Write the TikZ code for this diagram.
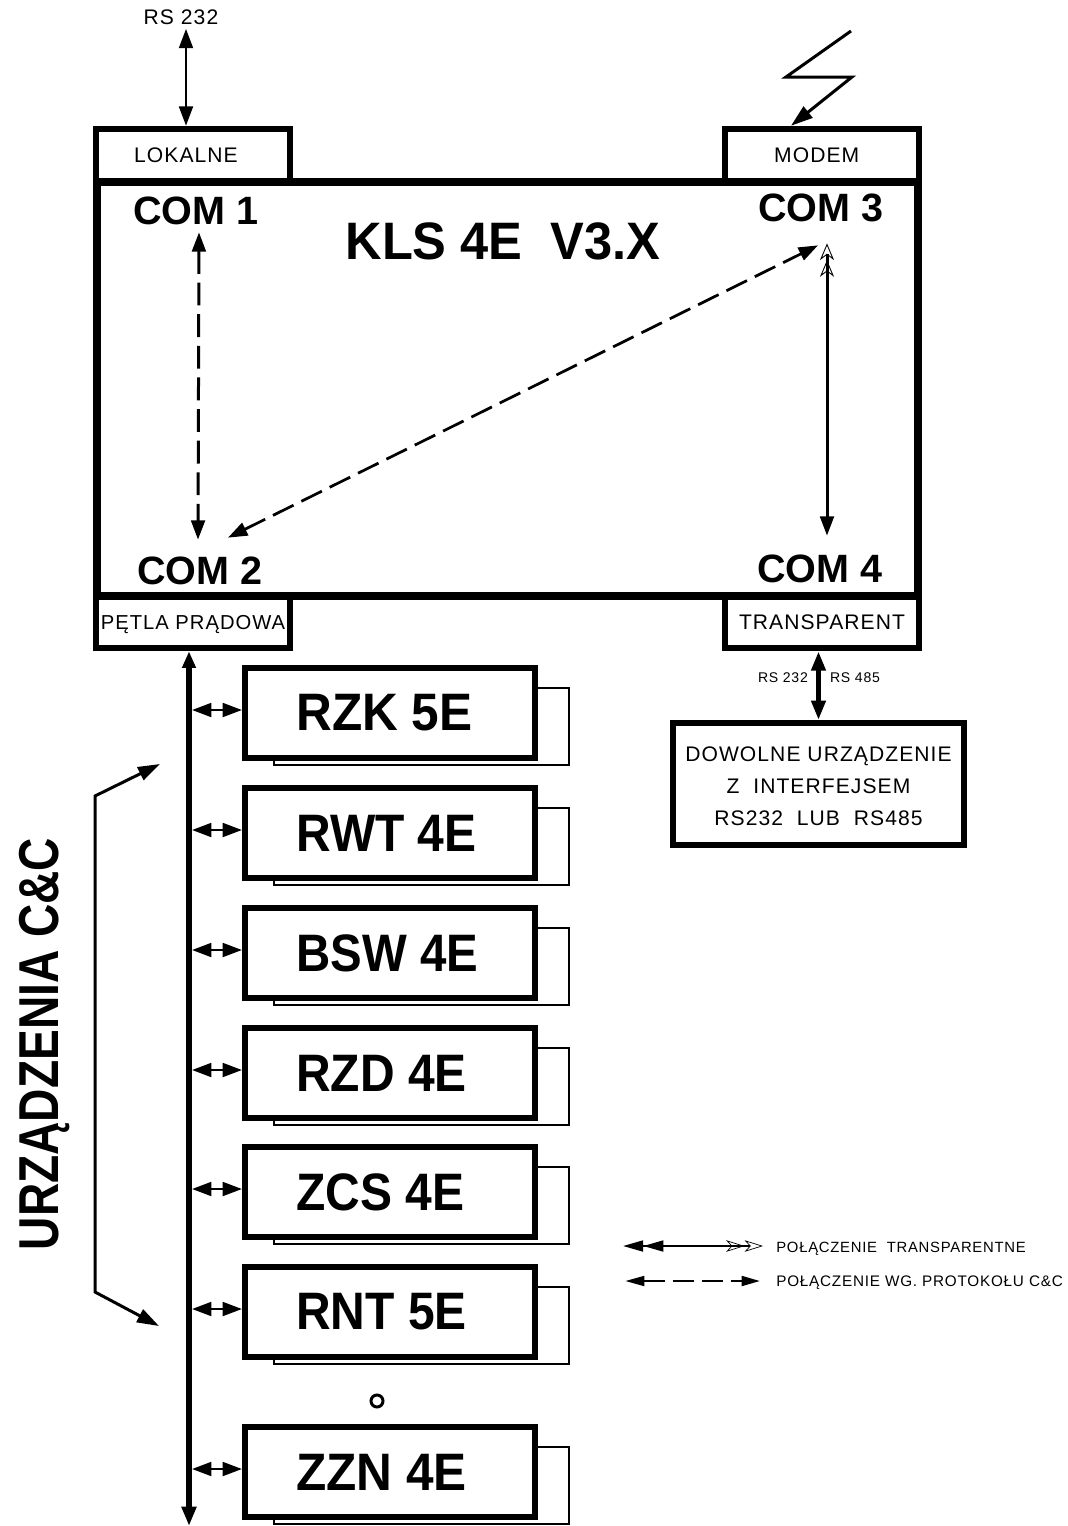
\documentclass[tikz,border=0pt]{standalone}
\usepackage{fontspec}
\usepackage{tikz}
\usetikzlibrary{calc, arrows.meta}
\setmainfont{Liberation Sans}
\newfontfamily\spacedfont[LetterSpace=5]{Liberation Sans}
\tikzset{
  thickbox/.style={draw, inner sep=0pt, line width=.12cm, minimum width=3.89cm, minimum height=1.05cm, text depth=0pt, font=\fontsize{12}{12}\spacedfont},
  frontbox/.style={draw, fill=white, inner sep=0pt, line width=.12cm, minimum width=5.8cm, minimum height=1.8cm},
  backbox/.style={draw, inner sep=0pt, line width=.04cm, minimum width=5.9cm, minimum height=1.54cm},
  comlabel/.style={inner sep=0pt, font=\fontsize{22.5}{22.5}\selectfont\bfseries},
  devlabel/.style={inner sep=0pt, anchor=west, font=\fontsize{30}{30}\selectfont\bfseries},
  smalllabel/.style={inner sep=0pt, font=\fontsize{8}{8}\spacedfont},
  solidtip/.tip={Triangle[length=11pt, width=7.8pt]},
  longtip/.tip={Triangle[length=12.5pt, width=8pt]},
  hollowdbl/.tip={Stealth[open, length=9.5pt, width=8pt, inset=3pt, line width=.5pt] Stealth[open, length=9.5pt, width=8pt, inset=3pt, line width=.5pt]},
  devlink/.style={solidtip-solidtip, line width=.055cm},
  dashedlink/.style={solidtip-solidtip, line width=.06cm, dash pattern=on 13pt off 5pt}
}

\begin{document}
\begin{tikzpicture}[x=0.02cm, y=-0.02cm]
  \useasboundingbox (0,0) rectangle (1068,1526);

  % controller with its four ports
  \node[draw, inner sep=0pt, line width=.16cm, minimum width=16.44cm, minimum height=8.28cm] (main) at (507.5,389) {};
  \node[thickbox] (lokalne) at (193,155) {LOKALNE\rule{8pt}{0pt}};
  \node[thickbox] (modem) at (822,155) {MODEM\rule{6pt}{0pt}};
  \node[thickbox, font=\fontsize{11.5}{11.5}\spacedfont] (petla) at (193,622) {PĘTLA PRĄDOWA};
  \node[thickbox] (transparent) at (822,622) {TRANSPARENT};

  \node[inner sep=0pt, font=\fontsize{30}{30}\selectfont\bfseries] (kls) at (503,241) {\scalebox{.96}[1]{KLS 4E\ \ V3.X}};
  \node[comlabel] (com1) at (196,211) {COM 1};
  \node[comlabel] (com3) at (821,208) {COM 3};
  \node[comlabel] (com2) at (200,571) {COM 2};
  \node[comlabel] (com4) at (820,569) {COM 4};

  % links inside
  \draw[dashedlink] ($(com1.south)+(3,7)$) -- ($(com2.north)+(-2,-17)$);
  \draw[dashedlink, line width=.055cm] ($(com2.north)+(28,-19)$) -- ($(com3.south)+(-3,23)$);
  \draw[hollowdbl-solidtip, line width=.06cm] ($(com3.south)+(6,21)$) -- ($(com4.north)+(7,-19)$);

  % RS 232 on top
  \node[inner sep=0pt, font=\fontsize{12}{12}\spacedfont] (rstop) at (181,17) {RS 232};
  \coordinate (rsin) at ($(rstop.south)+(5,4)$);
  \draw[devlink] (rsin) -- (lokalne.north -| rsin);

  % radio link
  \coordinate (radio) at (851,31);
  \draw[-longtip, line width=.06cm] (radio) -- (786,77) -- (852,77) -- (modem.north -| 791,0);

  % external device
  \node[draw, inner sep=0pt, line width=.12cm, minimum width=5.81cm, minimum height=2.44cm] (dowolne) at (818.5,784) {};
  \node[inner sep=0pt, align=center, font=\fontsize{12}{18.1}\spacedfont] (dowolnetext) at (818.5,786) {DOWOLNE URZĄDZENIE\\Z\ \ INTERFEJSEM\\RS232\ \ LUB\ \ RS485};
  \draw[solidtip-solidtip, line width=.1cm] (transparent.south -| dowolne.north) -- (dowolne.north);
  \node[smalllabel] (rsleft) at (783,678) {RS 232};
  \node[smalllabel] (rsright) at (855,678) {RS 485};

  % current loop bus
  \coordinate (busend) at (189,1526);
  \draw[{Triangle[length=9.5pt, width=7.4pt]}-{Triangle[length=11pt, width=8pt]}, line width=.11cm] (petla.south -| busend) -- (busend);

  % devices
  \foreach \y/\nm/\sc/\lab in {713/rzk/.94/RZK 5E, 833/rwt/.91/RWT 4E, 953/bsw/.9/BSW 4E, 1073/rzd/.91/RZD 4E, 1192/zcs/.91/ZCS 4E, 1312/rnt/.91/RNT 5E, 1472/zzn/.94/ZZN 4E} {
    \node[backbox] (back\nm) at (421.5,\y+13.5) {};
    \node[frontbox] (\nm) at (390,\y) {};
    \node[devlabel] (label\nm) at (296,\y) {\scalebox{\sc}[1]{\lab}};
    \coordinate (bus\nm) at (192,\y-3);
    \draw[devlink] (bus\nm) -- (\nm.west |- bus\nm);
  }
  \draw[line width=.06cm] (377,1401) circle (6);

  % group bracket
  \coordinate (groupa) at (160,764);
  \coordinate (groupb) at (159,1326);
  \draw[longtip-longtip, line width=.06cm] (groupa) -- (95,796) -- (95,1292) -- (groupb);
  \node[rotate=90, anchor=base, inner sep=0pt, font=\fontsize{32}{32}\selectfont\bfseries] (group) at (58,1044) {\scalebox{.82}[1]{URZĄDZENIA C\&C}};

  % legend
  \node[inner sep=0pt, anchor=base west, font=\fontsize{8.45}{8.45}\spacedfont] (legtrans) at (776,1252) {POŁĄCZENIE\ \ TRANSPARENTNE};
  \node[inner sep=0pt, anchor=base west, font=\fontsize{8.7}{8.7}\spacedfont] (legproto) at (776,1286) {POŁĄCZENIE WG. PROTOKOŁU C\&C};
  \coordinate (legstarta) at (623,1246);
  \coordinate (legstartb) at (625,1281);
  \draw[{Triangle[length=11.5pt, width=6.2pt] Triangle[length=11.5pt, width=6.2pt]}-{Stealth[open, length=10.5pt, width=6.6pt, inset=3pt, line width=.4pt] Stealth[open, length=10.5pt, width=6.6pt, inset=3pt, line width=.4pt]}, line width=.045cm, shorten >=7.4pt] (legstarta) -- (legstarta -| legtrans.west);
  \draw[{Triangle[length=11pt, width=5.5pt]}-{Triangle[length=10.5pt, width=5.5pt]}, line width=.055cm, dash pattern=on 12pt off 4.5pt, shorten >=9pt] (legstartb) -- (legstartb -| legproto.west);
\end{tikzpicture}
\end{document}
